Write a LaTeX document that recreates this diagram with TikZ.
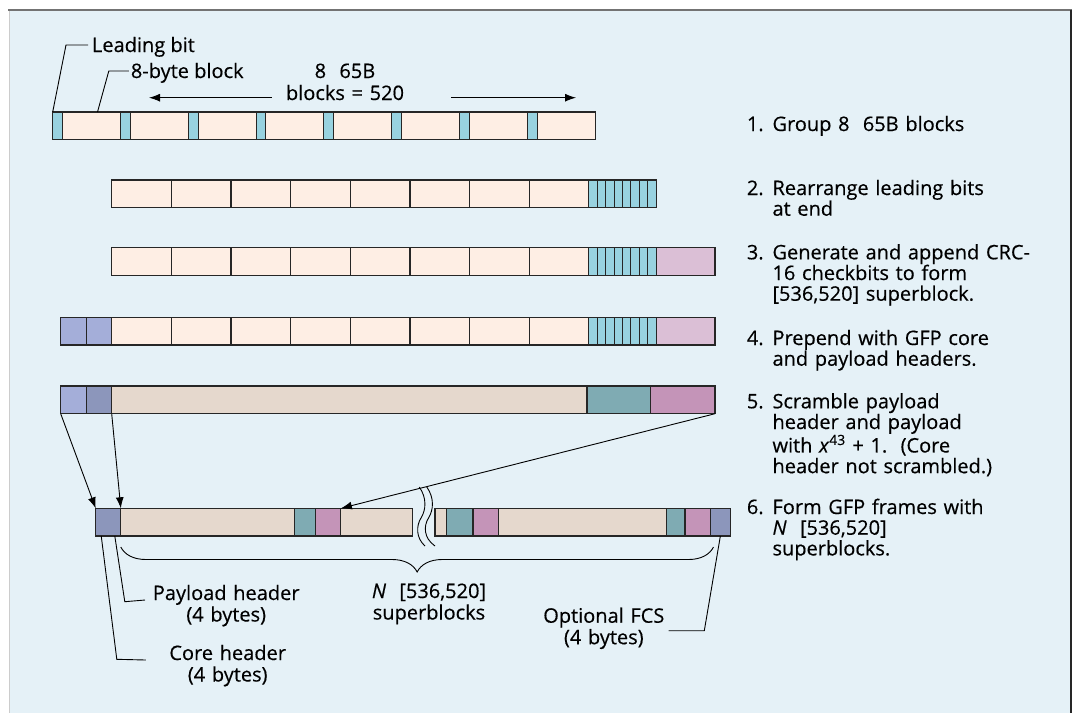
\documentclass[tikz,border=0pt]{standalone}
\usepackage{fontspec}
\setmainfont{Open Sans}[FakeBold=0.4]
\usepackage{xcolor}
\usetikzlibrary{arrows.meta, decorations.pathreplacing}
\definecolor{PanelBlue}{HTML}{E5F1F7}
\definecolor{BlockPeach}{HTML}{FEEEE4}
\definecolor{BitBlue}{HTML}{98D2E0}
\definecolor{CrcPink}{HTML}{DBBFD6}
\definecolor{HdrLight}{HTML}{A4AED9}
\definecolor{HdrDark}{HTML}{8C96BB}
\definecolor{PayTan}{HTML}{E5D8CD}
\definecolor{ScrTeal}{HTML}{7FABB3}
\definecolor{ScrPink}{HTML}{C494B8}

\begin{document}
\begin{tikzpicture}[
    x=1pt, y=-1pt,
    font=\fontsize{20}{21.5}\selectfont,
    cell/.style={draw=black!85, line width=1.1pt, inner sep=0pt, outer sep=0pt,
                 minimum height=27.7pt, anchor=north west},
    blk/.style={cell, fill=BlockPeach, minimum width=#1}, blk/.default=59.65,
    bit/.style={cell, fill=BitBlue, minimum width=#1}, bit/.default=8.4,
    crc/.style={cell, fill=CrcPink, minimum width=58.9},
    hdr/.style={cell, fill=HdrLight, minimum width=25.5},
    pay/.style={cell, fill=PayTan, minimum width=#1},
    tealc/.style={cell, fill=ScrTeal, minimum width=#1},
    pinkc/.style={cell, fill=ScrPink, minimum width=#1},
    arr/.style={-{Latex[length=11pt,width=8pt]}, line width=0.9pt},
    lead/.style={line width=0.9pt},
    lab/.style={inner xsep=0pt, inner ysep=0pt, align=center},
    stepnum/.style={anchor=base west, inner sep=0pt},
    stepbody/.style={anchor=base west, inner sep=0pt, text width=290pt, align=left,
                     font=\fontsize{20}{20.7}\selectfont}
  ]
    % Panel
    \useasboundingbox (0,0) rectangle (1075,713);
    \fill[PanelBlue] (9.3,9.5) rectangle (1071,713);
    \draw[black!20, line width=0.8pt] (9.3,9.5) -- (9.3,713);
    \draw[black!55, line width=2pt] (8.3,9.5) -- (1072,9.5);
    \draw[black!85, line width=1.5pt] (1071,9.5) -- (1071,713);

    % Row 1: eight 65B blocks, leading bit first
    \foreach \i in {0,...,7} {
      \node[bit=9.8] (r1t\i) at (52.7+67.8*\i, 112) {};
      \node[blk=58]  (r1b\i) at (62.5+67.8*\i, 112) {};
    }

    % Rows 2-4: leading bits moved to the end
    \foreach \r/\y in {2/180, 3/247.7, 4/317.3} {
      \foreach \i in {0,...,7} {
        \node[blk] (r\r-b\i) at (111.7+59.65*\i, \y) {};
        \node[bit] (r\r-t\i) at (588.9+8.4*\i, \y) {};
      }
    }
    \node[crc] (r3crc) at (656.1,247.7) {};
    \node[crc] (r4crc) at (656.1,317.3) {};
    \node[hdr] (r4h1)  at (60.7,317.3)  {};
    \node[hdr] (r4h2)  at (86.2,317.3)  {};

    % Row 5: scrambled
    \node[hdr]                (r5h1) at (60.7,386)  {};
    \node[hdr, fill=HdrDark]  (r5h2) at (86.2,386)  {};
    \node[pay=475.3]          (r5pay) at (111.7,386) {};
    \node[tealc=63.7]         (r5tl) at (587,386)   {};
    \node[pinkc=64.3]         (r5pk) at (650.7,386) {};

    % Row 6: GFP frame
    \node[hdr, fill=HdrDark, minimum width=25.1] (r6core) at (95.7,508.3) {};
    \node[pay=173.7]  (r6p1) at (120.8,508.3) {};
    \node[tealc=20.9] (r6t1) at (294.5,508.3) {};
    \node[pinkc=25.5] (r6k1) at (315.4,508.3) {};
    \node[pay=71.9]   (r6p2) at (340.9,508.3) {};
    \node[pay=11.3]   (r6p3) at (435,508.3)   {};
    \node[tealc=26.7] (r6t2) at (446.3,508.3) {};
    \node[pinkc=25.5] (r6k2) at (473,508.3)   {};
    \node[pay=167.8]  (r6p4) at (498.5,508.3) {};
    \node[tealc=18.7] (r6t3) at (666.3,508.3) {};
    \node[pinkc=25.5] (r6k3) at (685,508.3)   {};
    \node[hdr, fill=HdrDark, minimum width=19.7] (r6fcs) at (710.5,508.3) {};

    % break marks
    \draw[line width=0.9pt] (419.3,487) .. controls (427,498) and (426,510) .. (421,518)
                               .. controls (416,526) and (416,538) .. (425,546);
    \draw[line width=0.9pt] (426.8,487) .. controls (434.5,498) and (433.5,510) .. (428.5,518)
                               .. controls (423.5,526) and (423.5,538) .. (435,546);

    % Top labels
    \node[anchor=base west, inner xsep=3.8pt, inner ysep=0pt] (leadlbl) at (88,52) {Leading bit};
    \node[anchor=base west, inner xsep=1.9pt, inner ysep=0pt] (bytelbl) at (128.8,78) {8-byte block};
    \node[lab, anchor=base, text width=140pt] (spanlbl) at (345,78) {8~~65B\\[0.5pt]blocks = 520};
    \draw[lead] ([yshift=7pt]leadlbl.base west) -- ++(-22,0) -- (r1t0.north west);
    \draw[lead] ([yshift=7pt]bytelbl.base west) -- ++(-20,0) -- ([xshift=6pt]r1b0.north);
    \coordinate (spanLa) at (271.5,97.7);
    \coordinate (spanLb) at (149,97.7);
    \coordinate (spanRa) at (451,97.7);
    \coordinate (spanRb) at (576,97.7);
    \draw[arr] (spanLa) -- (spanLb);
    \draw[arr] (spanRa) -- (spanRb);

    % Arrows: row 5 -> row 6
    \draw[arr] (r5h1.south west) -- (r6core.north west);
    \draw[arr] (r5h2.south east) -- (r6core.north east);
    \draw[arr] (r5pk.south east) -- (r6k1.north east);

    % Brace and bottom labels
    \draw[lead, decorate, decoration={brace, mirror, amplitude=25pt}]
      ([yshift=-11pt]r6p1.south west) -- ([xshift=3pt, yshift=-11pt]r6fcs.south west);
    \node[lab, anchor=base, text width=140pt] (nlbl) at (429,598) {\textit{N}~~[536,520]\\superblocks};
    \node[lab, anchor=base west, text width=162pt] (paylbl) at (145,600) {Payload header\\(4 bytes)};
    \node[lab, anchor=base west, text width=163.4pt] (corelbl) at (145.8,660) {Core header\\(4 bytes)};
    \node[lab, anchor=base east, text width=129.2pt] (fcslbl) at (668.6,622.7) {Optional FCS\\(4 bytes)};
    \draw[lead] ([xshift=-6pt]r6core.south east) -- (124.8,601.7) -- (paylbl.base west);
    \draw[lead] ([xshift=-7pt]r6core.south) -- (116.8,659.3) -- (corelbl.base west);
    \draw[lead] (r6fcs.south) -- (704.3,630.7) -- ([yshift=-8pt]fcslbl.base east);

    % Steps
    \node[stepnum] (n1) at (746.7,131) {1.};
    \node[stepbody] (s1) at (772.3,131) {Group 8~~65B blocks};
    \node[stepnum] (n2) at (746.7,195) {2.};
    \node[stepbody] (s2) at (772.3,195) {Rearrange leading bits\\at end};
    \node[stepnum] (n3) at (746.7,259.3) {3.};
    \node[stepbody] (s3) at (772.3,259.3) {Generate and append CRC-\\16 checkbits to form\\{}[536,520] superblock.};
    \node[stepnum] (n4) at (746.7,345) {4.};
    \node[stepbody] (s4) at (772.3,345) {Prepend with GFP core\\and payload headers.};
    \node[stepnum] (n5) at (746.7,408.3) {5.};
    \node[stepbody] (s5) at (772.3,408.3) {Scramble payload\\header and payload\\with \textit{x}\textsuperscript{43} + 1.~~(Core\\header not scrambled.)};
    \node[stepnum] (n6) at (746.7,514) {6.};
    \node[stepbody] (s6) at (772.3,514) {Form GFP frames with\\\textit{N}~~[536,520]\\superblocks.};
  \end{tikzpicture}
\end{document}
